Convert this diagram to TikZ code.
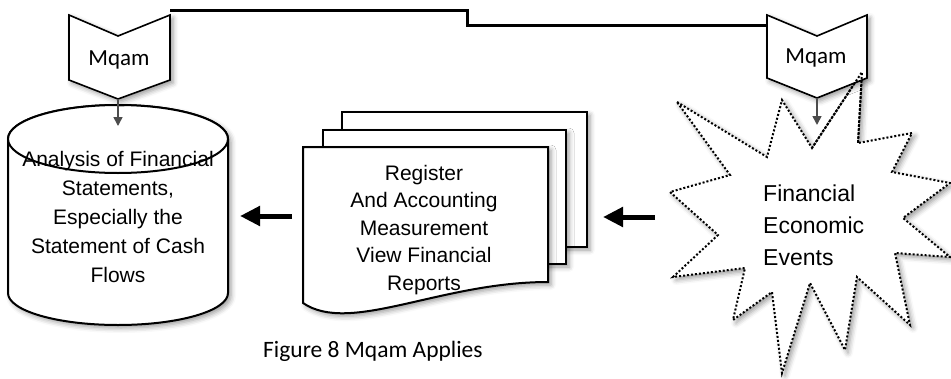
\documentclass[tikz,border=0pt]{standalone}
\usepackage{fontspec}
\setmainfont{Liberation Sans}
\newfontfamily\calibrifont{Carlito}
\usetikzlibrary{arrows.meta,shadows.blur}

\tikzset{
  softshadow/.style={blur shadow={shadow xshift=3pt, shadow yshift=-3pt,
      shadow blur radius=5pt, shadow opacity=40}},
  outline/.style={draw=black, line width=2pt, fill=white},
  chevron/.style={draw=black, line width=1.6pt, fill=white},
  burst/.style={draw=black, line width=2pt, dash pattern=on 2pt off 2pt},
  link/.style={draw=black, line width=3pt},
  tapin/.style={draw=black!70, line width=1.6pt, -{Triangle[width=9pt,length=9pt]}},
  fatarrow/.style={draw=black, line width=5pt, -{Triangle[width=19pt,length=20pt]}},
  bodytext/.style={font=\fontsize{21}{29}\selectfont, align=center, inner sep=0pt},
  doctext/.style={font=\fontsize{21}{27.5}\selectfont, align=center, inner sep=0pt},
  bursttext/.style={font=\fontsize{23}{32}\selectfont, align=left, inner sep=0pt},
  mqamtext/.style={font=\calibrifont\fontsize{23}{27}\selectfont, inner sep=0pt},
  captiontext/.style={font=\calibrifont\fontsize{23.5}{28}\selectfont, inner sep=0pt},
}

\begin{document}
\begin{tikzpicture}[x=1pt, y=-1pt]
\useasboundingbox (0,0) rectangle (951,378);

% ---- cylinder (analysis) ----
\path[outline, softshadow]
  (8,139) -- (8,293)
  .. controls (8,310.7) and (57.25,325) .. (118,325)
  .. controls (178.75,325) and (228,310.7) .. (228,293)
  -- (228,139)
  .. controls (228,120.2) and (178.75,105) .. (118,105)
  .. controls (57.25,105) and (8,120.2) .. (8,139) -- cycle;
\draw[outline] (118,139) ellipse [x radius=110, y radius=34];
\node[bodytext] (cyl) at (118,217)
  {Analysis of Financial\\Statements,\\Especially the\\Statement of Cash\\Flows};

% ---- stacked documents (register) ----
\path[outline, softshadow] (342,112) rectangle (587,247);
\path[outline, softshadow] (323,130) rectangle (566,264);
\path[outline, softshadow]
  (303,147) -- (548,147) -- (548,282)
  .. controls (440,282) and (350,335) .. (303,303) -- cycle;
\node[doctext] (doc) at (424,230)
  {Register\\And Accounting\\Measurement\\View Financial\\Reports};

% ---- starburst (events) ----
\def\burstpath{(677,102) -- (767,157) -- (782,100) -- (812,148) -- (862,72)
  -- (858,143) -- (912,133) -- (892,172) -- (950,183) -- (903,218)
  -- (950,257) -- (895,253) -- (910,325) -- (857,277) -- (845,350)
  -- (810,283) -- (782,373) -- (772,292) -- (733,320) -- (745,268)
  -- (673,277) -- (718,235) -- (670,192) -- (730,175) -- cycle}
\path[fill=white, softshadow] \burstpath;
\draw[burst] \burstpath;

% ---- Mqam chevrons ----
\path[chevron, softshadow] (69,15) -- (118,36) -- (170,15) -- (170,80)
  -- (118,99) -- (69,80) -- cycle;
\path[chevron, softshadow] (767,15) -- (817,36) -- (867,15) -- (867,78)
  -- (817,98) -- (767,78) -- cycle;
\draw[burst] (812,148) -- (862,72) -- (858,143);
\node[mqamtext, anchor=base] (mqL) at (119,65) {Mqam};
\node[mqamtext, anchor=base] (mqR) at (816,63) {Mqam};

\node[bursttext, anchor=west] (ev) at (763,225) {Financial\\Economic\\Events};

% ---- connectors ----
\coordinate (mqLtop) at (170,10);
\coordinate (stepA) at (467,10);
\coordinate (stepB) at (467,25);
\coordinate (mqRside) at (767,25);
\draw[link] (mqLtop) -- (stepA) -- (stepB) -- (mqRside);

\coordinate (mqLtip) at (118,99);
\coordinate (cylTop) at (118,126);
\coordinate (mqRtip) at (817,98);
\coordinate (evTop) at (817,125);
\draw[tapin] (mqLtip) -- (cylTop);
\draw[tapin] (mqRtip) -- (evTop);

\coordinate (evOut) at (655,217);
\coordinate (docIn) at (603,217);
\coordinate (docOut) at (292,216);
\coordinate (cylIn) at (240,216);
\draw[fatarrow] (evOut) -- (docIn);
\draw[fatarrow] (docOut) -- (cylIn);

% ---- caption ----
\node[captiontext, anchor=base west] (cap) at (263,357) {Figure 8 Mqam Applies};
\end{tikzpicture}
\end{document}
